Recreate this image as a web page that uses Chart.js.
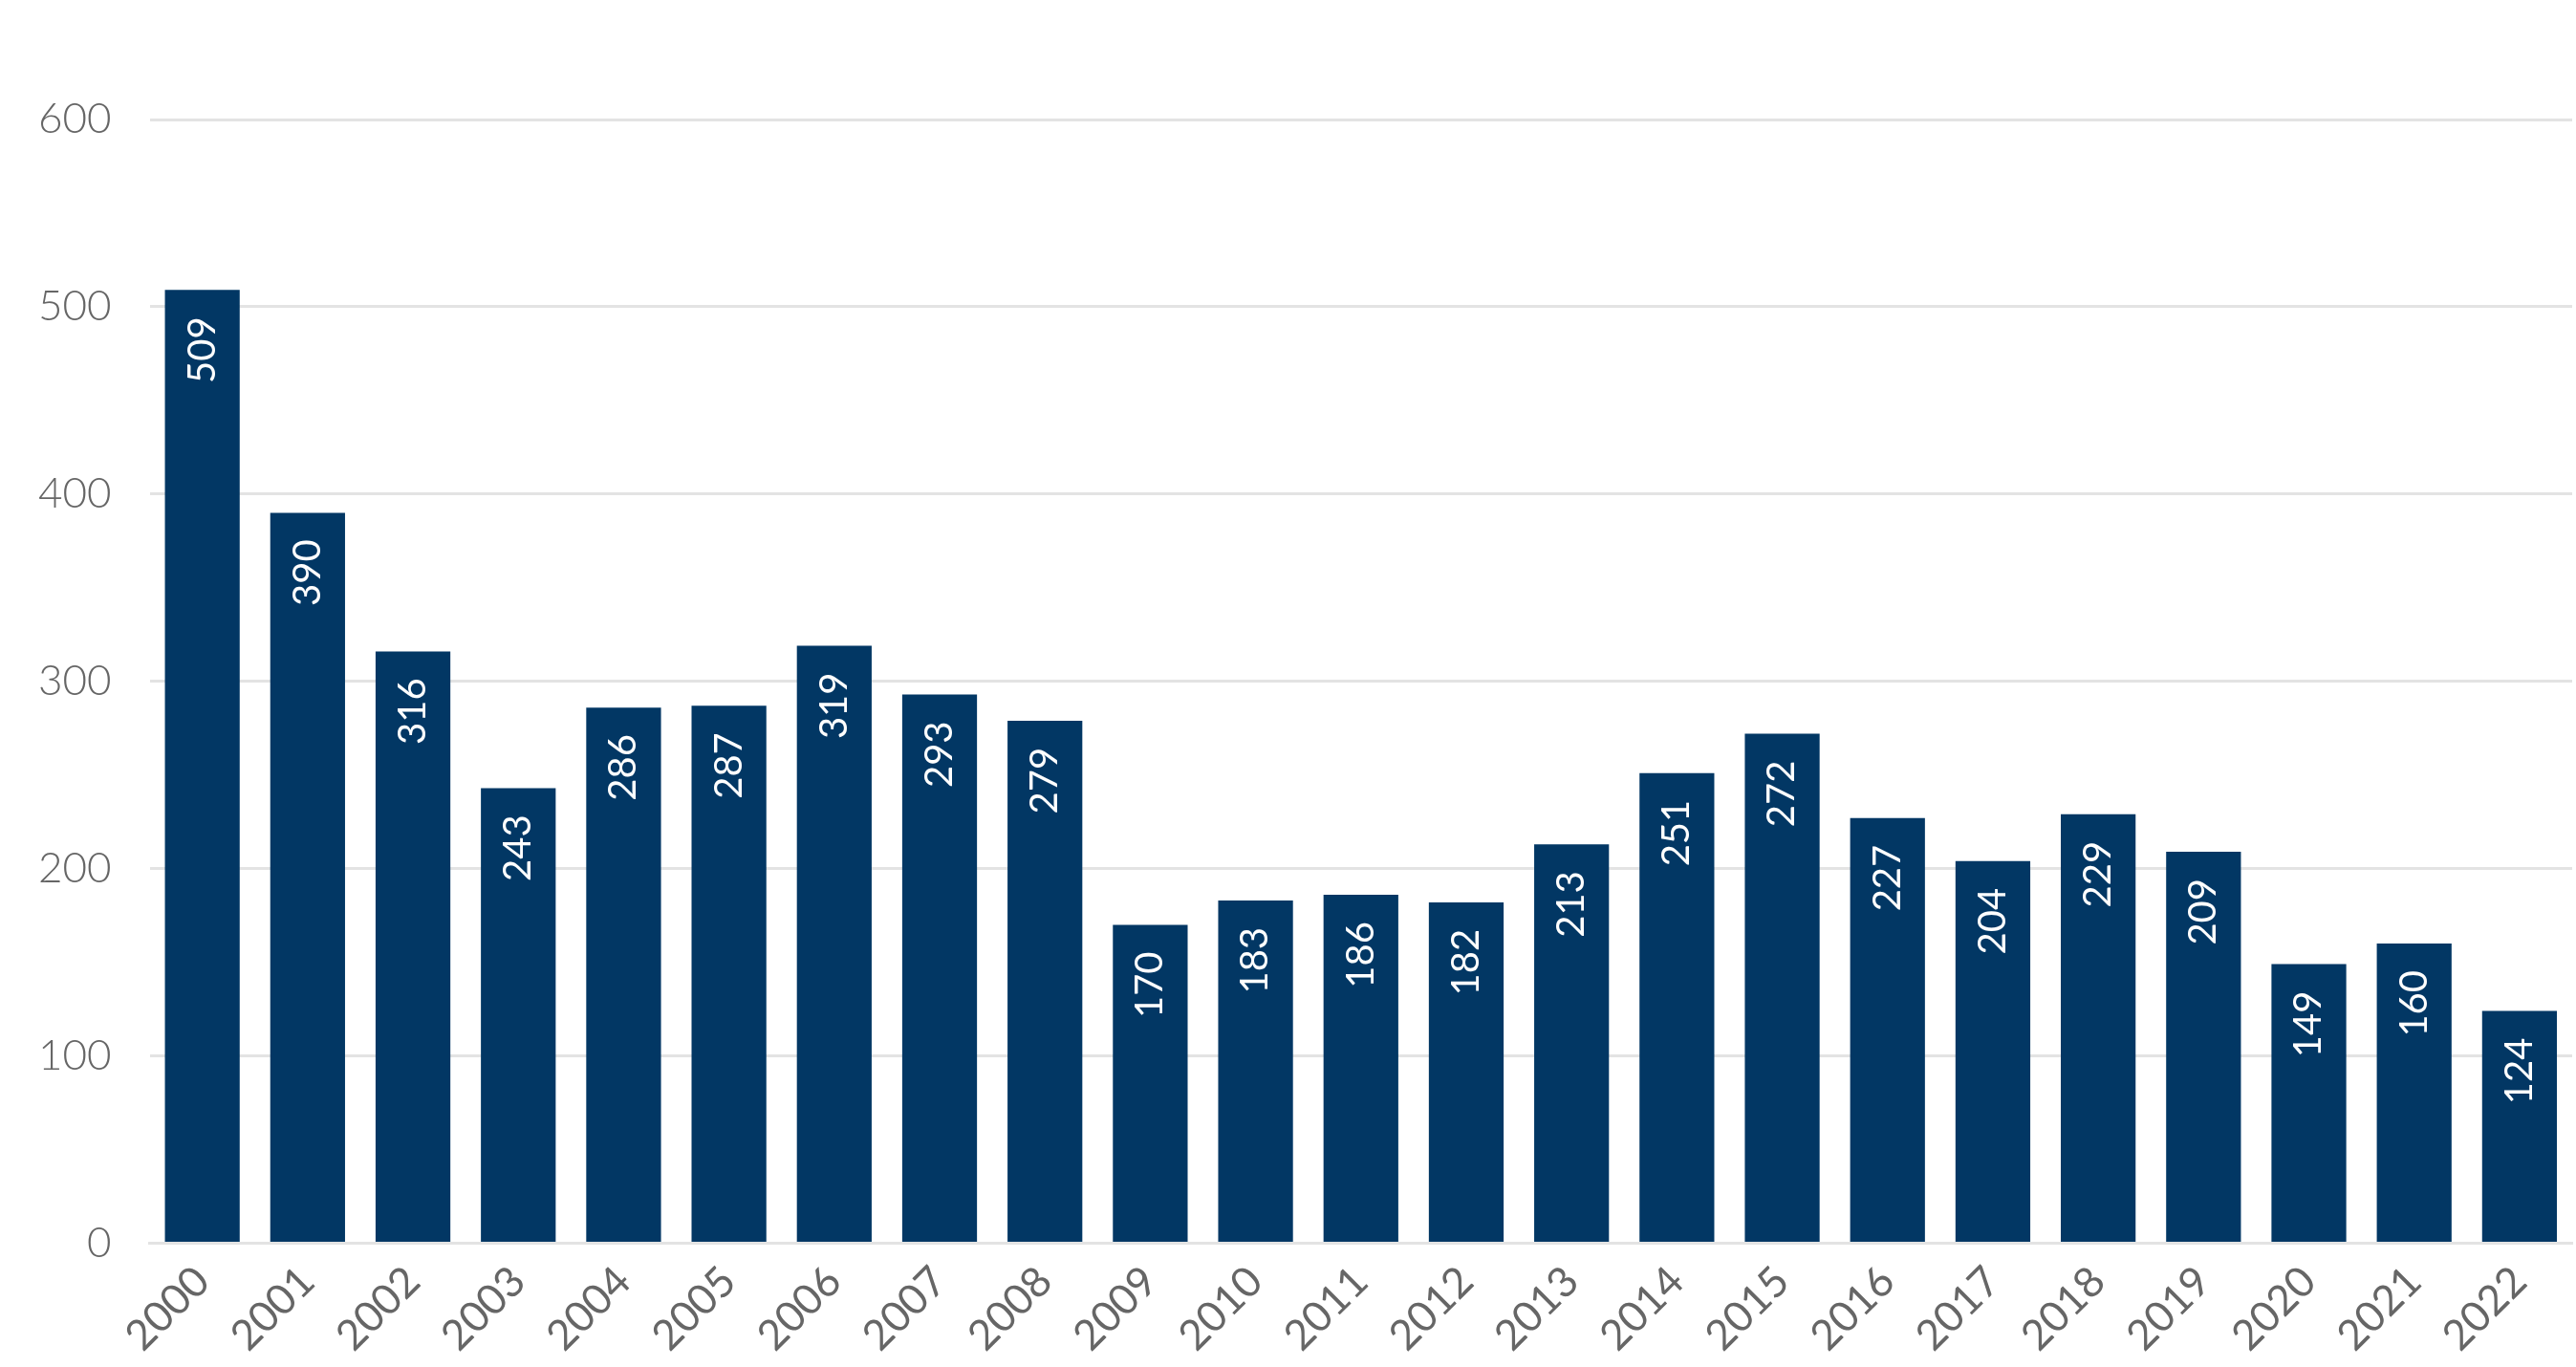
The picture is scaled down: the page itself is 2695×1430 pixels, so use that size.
<!DOCTYPE html>
<html>
<head>
<meta charset="utf-8">
<script src="https://cdn.jsdelivr.net/npm/chart.js@4"></script>
<style>
  html, body { margin: 0; padding: 0; background: #fff; }
  #wrap { width: 2695px; height: 1430px; }
</style>
</head>
<body>
<div id="wrap"><canvas id="myChart"></canvas></div>
<script>
const years = ['2000','2001','2002','2003','2004','2005','2006','2007','2008','2009','2010','2011',
  '2012','2013','2014','2015','2016','2017','2018','2019','2020','2021','2022'];
const counts = [509,390,316,243,286,287,319,293,279,170,183,186,182,213,251,272,227,204,229,209,149,160,124];
const yTicks = [0,100,200,300,400,500,600];

// value labels, written vertically (bottom to top) inside the top of each bar
const barLabels = {
  id: 'barLabels',
  afterDatasetsDraw(chart) {
    const ctx = chart.ctx;
    const meta = chart.getDatasetMeta(0);
    ctx.save();
    ctx.fillStyle = '#fff';
    ctx.font = '40px Lato, "Open Sans", sans-serif';
    ctx.textAlign = 'right';
    ctx.textBaseline = 'middle';
    meta.data.forEach((bar, i) => {
      ctx.save();
      ctx.translate(bar.x, bar.y + 28);
      ctx.rotate(-Math.PI / 2);
      ctx.fillText(String(counts[i]), 0, 0);
      ctx.restore();
    });
    ctx.restore();
  }
};

const ctx1 = document.getElementById('myChart');
new Chart(ctx1, {
  type: 'bar',
  data: {
    labels: years,
    datasets: [{
      data: counts,
      backgroundColor: '#023764',
      categoryPercentage: 1,
      barPercentage: 0.71
    }]
  },
  plugins: [barLabels],
  options: {
    responsive: true,
    maintainAspectRatio: false,
    animation: false,
    layout: { padding: { top: 125, right: 4, left: 0, bottom: 0 } },
    plugins: { legend: { display: false }, tooltip: { enabled: false } },
    scales: {
      x: {
        grid: { display: false },
        border: { display: true, color: '#e3e3e3', width: 3 },
        ticks: {
          color: '#666',
          font: { family: 'Lato, "Open Sans", sans-serif', size: 44 },
          maxRotation: 45, minRotation: 45, padding: 6
        }
      },
      y: {
        min: 0, max: 600,
        afterBuildTicks: axis => { axis.ticks = yTicks.map(v => ({ value: v })); },
        grid: { color: '#e3e3e3', lineWidth: 3, drawTicks: false },
        border: { display: false },
        ticks: {
          color: '#666',
          font: { family: 'Lato, "Open Sans", sans-serif', size: 44, weight: 300 },
          padding: 40
        }
      }
    }
  }
});
</script>
</body>
</html>
